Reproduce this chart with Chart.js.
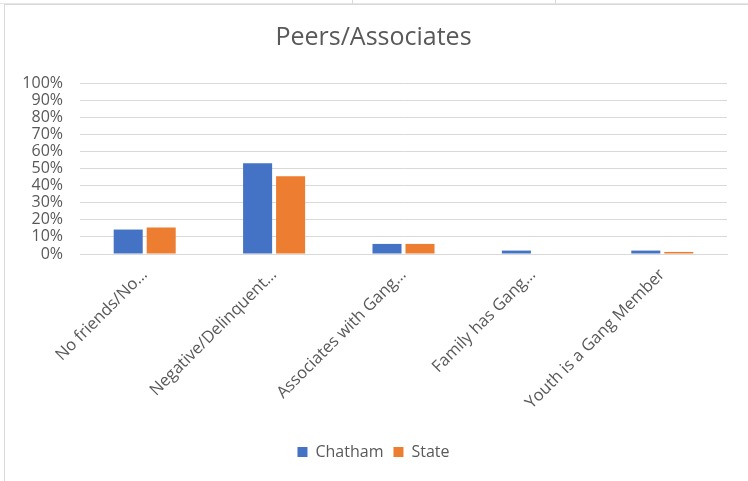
<!DOCTYPE html>
<html>
<head>
<meta charset="utf-8">
<script src="https://cdn.jsdelivr.net/npm/chart.js@4.4.1/dist/chart.umd.min.js"></script>
<style>
  html, body { margin: 0; padding: 0; background: #fff; }
  #wrap { position: relative; width: 748px; height: 481px; overflow: hidden; }
  #frame { position: absolute; left: 4px; top: 4px; width: 760px; height: 500px; border: 1px solid #d9d9d9; box-sizing: border-box; }
  #topline { position: absolute; left: 0; top: 0; width: 748px; height: 3px; border-bottom: 1px solid #e6e6e6; }
  .vline { position: absolute; top: 0; width: 1px; height: 4px; background: #d9d9d9; }
  canvas { position: absolute; left: 0; top: 0; }
</style>
</head>
<body>
<div id="wrap">
  <div id="topline"></div>
  <div class="vline" style="left:352px"></div>
  <div class="vline" style="left:555px"></div>
  <div id="frame"></div>
  <canvas id="peersChart" width="748" height="481"></canvas>
</div>
<script>
// categories and values (percent)
const categories = [
  'No friends/No…',
  'Negative/Delinquent…',
  'Associates with Gang…',
  'Family has Gang…',
  'Youth is a Gang Member'
];
const chatham = [14.3, 53.0, 5.9, 2.0, 2.0];
const state = [15.5, 45.4, 5.9, 0, 1.2];
const yTicks = [0, 10, 20, 30, 40, 50, 60, 70, 80, 90, 100];

const textColor = '#595959';
const fontFamily = '"Open Sans", Lato, sans-serif';

new Chart(document.getElementById('peersChart'), {
  type: 'bar',
  data: {
    labels: categories,
    datasets: [
      {
        label: 'Chatham',
        data: chatham,
        backgroundColor: '#4472C4', // blue
        categoryPercentage: 0.51,
        barPercentage: 0.88
      },
      {
        label: 'State',
        data: state,
        backgroundColor: '#ED7D31', // orange
        categoryPercentage: 0.51,
        barPercentage: 0.88
      }
    ]
  },
  options: {
    responsive: false,
    animation: false,
    layout: {
      padding: { left: 20, right: 21, top: 20, bottom: 11 }
    },
    plugins: {
      title: {
        display: true,
        text: 'Peers/Associates',
        color: textColor,
        font: { family: fontFamily, size: 25, weight: 'normal' },
        padding: { top: 3, bottom: 30 }
      },
      legend: {
        position: 'bottom',
        labels: {
          color: textColor,
          font: { family: fontFamily, size: 16 },
          boxWidth: 10,
          boxHeight: 10,
          padding: 10
        }
      },
      tooltip: { enabled: false }
    },
    scales: {
      x: {
        grid: { display: false },
        border: { color: '#d9d9d9' },
        ticks: {
          color: textColor,
          font: { family: fontFamily, size: 16.5 },
          minRotation: 45,
          maxRotation: 45,
          autoSkip: false
        },
        afterFit: function (scale) { scale.height = 180; }
      },
      y: {
        min: 0,
        max: 100,
        afterBuildTicks: function (scale) {
          scale.ticks = yTicks.map(function (v) { return { value: v }; });
        },
        grid: { color: '#d9d9d9', drawTicks: false },
        border: { display: false },
        ticks: {
          color: textColor,
          font: { family: fontFamily, size: 16 },
          padding: 17,
          autoSkip: false,
          callback: function (v) { return v + '%'; }
        },
        afterFit: function (scale) { scale.width = 60; }
      }
    }
  }
});
</script>
</body>
</html>
